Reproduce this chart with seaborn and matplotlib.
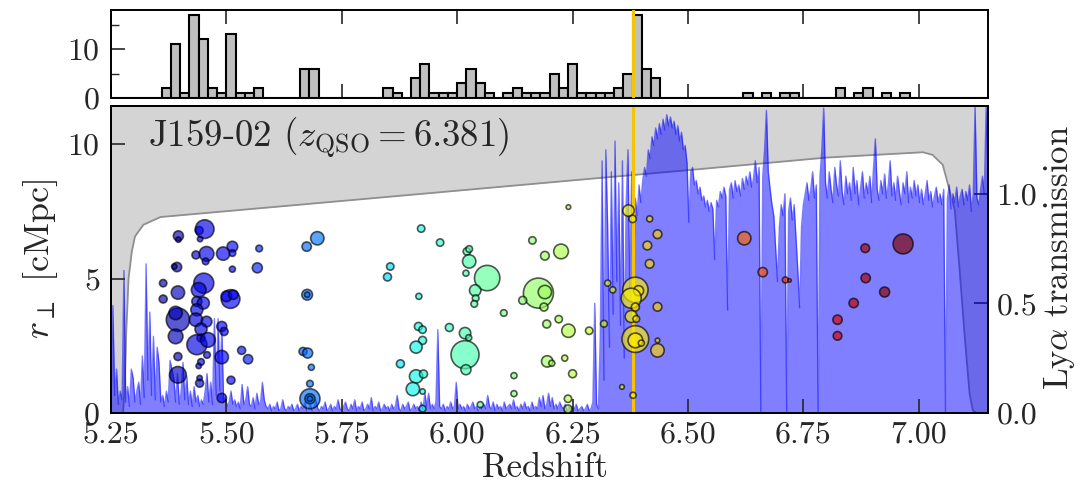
import numpy as np
import pandas as pd
import matplotlib
matplotlib.use("Agg")
import matplotlib.pyplot as plt
from matplotlib.ticker import FormatStrFormatter, FixedLocator
import seaborn as sns

# ---------------- data ----------------
Z_QSO = 6.381
LABEL_TEXT = r"J159-02 ($z_{\rm QSO} = 6.381$)"

X_TICKS = [5.25, 5.50, 5.75, 6.00, 6.25, 6.50, 6.75, 7.00]
R_TICKS = [0, 5, 10]
T_TICKS = [0.0, 0.5, 1.0]
H_TICKS = [0, 10]
H_MINOR = [5, 15]

# redshift histogram (left bin edges, width 0.02)
HIST_BIN_LEFT = [5.36, 5.38, 5.40, 5.42, 5.44, 5.46, 5.48, 5.50, 5.52, 5.54, 5.56,
                 5.66, 5.68, 5.84, 5.86, 5.90, 5.92, 5.94, 5.96, 5.98,
                 6.00, 6.02, 6.04, 6.06, 6.10, 6.12, 6.14, 6.16, 6.18,
                 6.20, 6.22, 6.24, 6.26, 6.28, 6.30, 6.32, 6.34, 6.36, 6.38,
                 6.40, 6.42, 6.62, 6.66, 6.70, 6.72, 6.82, 6.86, 6.88, 6.92, 6.96]
HIST_COUNTS = [2, 11, 1, 17, 12, 2, 1, 13, 1, 1, 2,
               6, 6, 2, 1, 4, 7, 1, 1, 1,
               3, 6, 3, 1, 1, 2, 1, 1, 1,
               5, 2, 7, 1, 1, 1, 1, 2, 5, 17,
               6, 4, 1, 1, 1, 1, 2, 1, 2, 1, 1]
HIST_BINWIDTH = 0.02

# survey coverage (max r_perp) vs redshift
CURVE_Z = [5.250, 5.276, 5.280, 5.283, 5.288, 5.295, 5.302, 5.320, 5.357, 5.660,
           5.987, 6.313, 6.530, 6.799, 7.009, 7.030, 7.052, 7.078, 7.088, 7.099,
           7.110, 7.117, 7.125, 7.150]
CURVE_R = [0.00, 0.00, 1.00, 3.00, 5.00, 6.00, 6.57, 7.00, 7.29, 7.75,
           8.25, 8.75, 9.08, 9.50, 9.70, 9.60, 9.23, 7.56, 5.45, 2.97,
           0.74, 0.10, 0.00, 0.00]

# Ly-alpha transmission, sampled every 0.004 in redshift from 5.25 to 7.15
SPEC_T = [
    0.05, 0.49, 0.08, 0.20, 0.04, 0.10, 0.06, 0.65, 0.05, 0.12, 0.03, 0.20, 0.16, 0.05, 0.10, 0.14, 0.04, 0.26, 0.07, 0.68, 0.15, 0.46, 0.08, 0.35, 0.06,
    0.30, 0.23, 0.05, 0.08, 0.03, 0.10, 0.05, 0.24, 0.20, 0.16, 0.05, 0.18, 0.04, 0.10, 0.23, 0.06, 0.17, 0.04, 0.10, 0.03, 0.12, 0.05, 0.08, 0.03, 0.06,
    0.04, 0.10, 0.18, 0.05, 0.14, 0.04, 0.43, 0.08, 0.43, 0.10, 0.39, 0.05, 0.07, 0.03, 0.05, 0.10, 0.04, 0.06, 0.03, 0.05, 0.02, 0.13, 0.04, 0.06, 0.12,
    0.04, 0.03, 0.07, 0.02, 0.09, 0.04, 0.05, 0.14, 0.06, 0.03, 0.02, 0.04, 0.01, 0.03, 0.02, 0.05, 0.01, 0.02, 0.06, 0.02, 0.01, 0.03, 0.02, 0.04, 0.01,
    0.02, 0.04, 0.01, 0.03, 0.02, 0.05, 0.01, 0.02, 0.04, 0.01, 0.03, 0.06, 0.02, 0.01, 0.03, 0.02, 0.05, 0.01, 0.02, 0.04, 0.01, 0.03, 0.02, 0.06, 0.02,
    0.01, 0.03, 0.05, 0.02, 0.01, 0.04, 0.02, 0.06, 0.01, 0.03, 0.02, 0.05, 0.01, 0.02, 0.04, 0.02, 0.07, 0.01, 0.03, 0.02, 0.05, 0.01, 0.02, 0.04, 0.02,
    0.03, 0.01, 0.04, 0.02, 0.03, 0.08, 0.02, 0.01, 0.04, 0.02, 0.03, 0.05, 0.01, 0.02, 0.04, 0.02, 0.03, 0.01, 0.05, 0.02, 0.09, 0.03, 0.09, 0.02, 0.04,
    0.02, 0.05, 0.38, 0.03, 0.02, 0.04, 0.01, 0.03, 0.02, 0.05, 0.02, 0.03, 0.14, 0.02, 0.04, 0.02, 0.03, 0.01, 0.04, 0.02, 0.03, 0.05, 0.02, 0.03, 0.01,
    0.03, 0.02, 0.04, 0.02, 0.08, 0.03, 0.02, 0.05, 0.01, 0.04, 0.02, 0.03, 0.01, 0.05, 0.02, 0.03, 0.04, 0.02, 0.06, 0.02, 0.03, 0.01, 0.04, 0.02, 0.05,
    0.02, 0.03, 0.01, 0.05, 0.02, 0.03, 0.02, 0.07, 0.03, 0.08, 0.02, 0.04, 0.09, 0.03, 0.07, 0.02, 0.04, 0.02, 0.05, 0.03, 0.02, 0.04, 0.01, 0.03, 0.02,
    0.03, 0.02, 0.04, 0.01, 0.02, 0.03, 0.01, 0.02, 0.04, 0.01, 0.02, 0.05, 0.50, 0.04, 0.02, 0.35, 1.15, 0.15, 1.20, 0.85, 0.30, 1.10, 0.45, 1.24, 0.60,
    1.05, 0.40, 1.15, 0.25, 0.95, 1.20, 0.55, 1.10, 0.65, 0.98, 0.90, 1.04, 0.96, 1.06, 1.12, 1.08, 1.20, 1.16, 1.26, 1.22, 1.30, 1.25, 1.32, 1.27, 1.34,
    1.29, 1.36, 1.31, 1.35, 1.30, 1.33, 1.27, 1.31, 1.24, 1.28, 1.20, 1.22, 1.14, 0.87, 1.10, 1.12, 1.04, 1.06, 1.00, 1.03, 0.97, 0.99, 0.94, 0.97, 0.92,
    0.96, 0.93, 0.70, 0.97, 0.94, 1.01, 0.98, 1.03, 0.99, 0.47, 1.02, 1.05, 0.98, 1.06, 1.01, 1.04, 0.99, 1.07, 1.02, 1.08, 1.04, 1.10, 1.03, 1.07, 1.15,
    1.05, 1.12, 0.00, 1.08, 1.20, 1.38, 1.10, 1.02, 0.95, 0.90, 0.75, 0.60, 0.85, 0.95, 0.90, 1.00, 0.00, 0.92, 0.98, 0.88, 0.95, 0.80, 0.65, 0.48, 0.85,
    0.95, 1.00, 1.05, 0.97, 1.02, 1.10, 0.98, 1.04, 0.00, 1.08, 1.20, 1.39, 1.05, 0.98, 1.10, 1.02, 0.96, 1.12, 1.04, 0.99, 1.15, 1.01, 0.95, 1.08, 1.00,
    1.05, 0.97, 1.12, 1.00, 1.06, 0.95, 1.03, 1.10, 0.98, 1.05, 1.00, 1.08, 0.96, 1.12, 1.25, 1.02, 0.97, 1.06, 1.00, 1.09, 0.98, 1.04, 1.15, 0.99, 1.05,
    0.97, 1.08, 1.01, 0.95, 1.05, 1.00, 1.10, 0.96, 1.03, 0.98, 1.06, 0.99, 1.04, 0.96, 1.02, 0.95, 1.00, 1.06, 0.97, 1.01, 0.94, 0.99, 1.03, 0.96, 1.00,
    0.95, 1.02, 0.00, 0.98, 1.04, 0.93, 1.00, 0.96, 1.03, 0.94, 0.99, 1.02, 0.95, 1.01, 0.97, 1.04, 0.92, 1.00, 1.40, 0.98, 0.95, 1.02, 1.08, 1.00, 1.40, 1.10,
]
SPEC_Z_RANGE = (5.25, 7.15)

# galaxies: redshift, transverse distance (cMpc), marker size
GAL_Z = [5.396, 5.396, 5.441, 5.453, 5.443, 5.434, 5.457, 5.455, 5.493, 5.513,
         5.513, 5.571, 5.393, 5.387, 5.513, 5.567, 5.363, 5.395, 5.363, 5.451,
         5.440, 5.436, 5.450, 5.509, 5.500, 5.515, 5.395, 5.390, 5.436, 5.434,
         5.457, 5.445, 5.390, 5.445, 5.436, 5.460, 5.490, 5.495, 5.395, 5.445,
         5.458, 5.440, 5.490, 5.533, 5.547, 5.395, 5.442, 5.442, 5.510, 5.490,
         5.675, 5.675, 5.674, 5.697, 5.666, 5.676, 5.684, 5.681, 5.681, 5.681, 5.681,
         5.922, 5.963, 5.855, 5.849, 5.917, 6.021, 6.026, 6.026, 6.019, 6.065,
         6.039, 6.040, 6.037, 6.101, 5.983, 6.017, 6.025, 6.017, 6.019, 5.916,
         5.925, 5.925, 5.911, 5.877, 5.911, 5.927, 5.904, 5.925, 5.925, 6.050,
         6.163, 6.190, 6.225, 6.241, 6.176, 6.190, 6.142, 6.188, 6.194, 6.220,
         6.241, 6.286, 6.195, 6.205, 6.233, 6.250, 6.123, 6.123, 6.240, 6.240,
         6.371, 6.380, 6.417, 6.434, 6.412, 6.417, 6.326, 6.337, 6.386, 6.393,
         6.377, 6.386, 6.434, 6.377, 6.388, 6.318, 6.386, 6.386, 6.399, 6.434,
         6.357, 6.381, 6.434,
         6.622, 6.662, 6.711, 6.720, 6.884, 6.966, 6.885, 6.926, 6.859, 6.824, 6.824]
GAL_R = [6.59, 6.45, 6.79, 6.84, 6.47, 5.88, 5.92, 5.64, 5.93, 6.19,
         5.95, 6.12, 5.43, 5.45, 5.35, 5.40, 4.83, 4.48, 4.24, 4.83,
         4.58, 4.15, 4.09, 4.24, 4.34, 4.40, 3.47, 3.72, 3.84, 3.47,
         3.40, 3.12, 2.85, 2.79, 2.54, 2.72, 3.22, 3.03, 2.10, 1.90,
         2.16, 1.75, 2.08, 2.33, 2.00, 1.42, 1.11, 1.30, 1.22, 0.56,
         4.40, 4.40, 6.19, 6.50, 2.29, 2.23, 1.70, 1.09, 0.53, 0.53, 0.53,
         6.86, 6.34, 5.45, 5.06, 4.34, 6.01, 6.10, 5.64, 5.20, 5.02,
         4.56, 4.27, 4.06, 3.72, 3.18, 2.97, 2.80, 2.17, 1.61, 3.22,
         3.10, 2.70, 2.45, 1.83, 1.36, 1.45, 0.89, 0.80, 0.16, 0.31,
         6.42, 5.85, 6.01, 7.66, 4.46, 4.50, 4.19, 3.94, 3.31, 3.49,
         3.06, 3.06, 1.92, 1.85, 2.04, 1.46, 1.39, 0.72, 0.53, 0.15,
         7.53, 7.22, 7.22, 6.65, 6.23, 5.55, 4.83, 4.58, 4.58, 4.55,
         4.27, 3.94, 3.95, 3.59, 3.50, 3.32, 2.75, 2.70, 2.60, 2.33,
         0.97, 0.66, 2.70,
         6.50, 5.24, 4.95, 4.93, 6.13, 6.29, 5.02, 4.50, 4.09, 3.47, 2.87]
GAL_S = [52, 15, 33, 181, 15, 33, 112, 23, 92, 59,
         23, 23, 45, 15, 19, 52, 28, 92, 33, 207,
         112, 52, 75, 181, 59, 45, 282, 92, 75, 92,
         59, 75, 112, 33, 207, 112, 52, 33, 33, 23,
         23, 15, 92, 33, 45, 144, 33, 15, 33, 45,
         59, 15, 45, 92, 33, 52, 19, 23, 207, 52, 15,
         28, 28, 28, 33, 19, 28, 23, 92, 19, 333,
         67, 23, 23, 23, 33, 67, 19, 406, 52, 33,
         28, 33, 75, 33, 92, 33, 92, 15, 23, 19,
         28, 39, 112, 11, 467, 92, 33, 33, 33, 28,
         92, 28, 67, 19, 19, 33, 19, 19, 28, 33,
         67, 28, 19, 39, 39, 39, 19, 19, 333, 52,
         207, 33, 39, 75, 23, 23, 369, 112, 19, 92,
         11, 19, 11,
         92, 45, 19, 6, 39, 207, 45, 52, 45, 45, 39]

# ---------------- style ----------------
sns.set_style("ticks")
plt.rcParams["font.family"] = ["cmr10", "DejaVu Serif"]
plt.rcParams["mathtext.fontset"] = "cm"
plt.rcParams["axes.formatter.use_mathtext"] = True
plt.rcParams["axes.unicode_minus"] = False

TICK_FS = 23
LABEL_FS = 25

fig = plt.figure(figsize=(10.83, 4.93), dpi=100)
L, W = 111 / 1083, 877 / 1083
pos_hist = [L, 1 - 98 / 493, W, 88 / 493]
pos_main = [L, 1 - 413 / 493, W, 307 / 493]

ax_h = fig.add_axes(pos_hist)
ax_bg = fig.add_axes(pos_main)
ax = fig.add_axes(pos_main, sharex=ax_bg, sharey=ax_bg)
ax2 = ax.twinx()
ax_bg.set_zorder(0)
ax2.set_zorder(1)
ax.set_zorder(2)
ax.patch.set_visible(False)
ax_bg.axis("off")

XLIM = (5.25, 7.15)
RLIM = (0, 11.42)
TLIM = (0, 1.40)

# ---------------- histogram ----------------
hist_df = pd.DataFrame({"z": np.array(HIST_BIN_LEFT) + HIST_BINWIDTH / 2,
                        "n": HIST_COUNTS})
sns.histplot(data=hist_df, x="z", weights="n", binwidth=HIST_BINWIDTH,
             binrange=(5.24, 7.16), ax=ax_h,
             color="#c0c0c0", edgecolor="black", linewidth=1.5, alpha=1.0)
ax_h.axvline(Z_QSO, color="#f5c400", lw=2.2, zorder=5)
ax_h.set_xlim(*XLIM)
ax_h.set_ylim(0, 18)
ax_h.set_xticks(X_TICKS)
ax_h.set_xticklabels([])
ax_h.set_yticks(H_TICKS)
ax_h.yaxis.set_minor_locator(FixedLocator(H_MINOR))
ax_h.tick_params(axis="x", which="major", direction="in", top=True, bottom=True,
                 length=10, width=1.2)
ax_h.tick_params(axis="y", which="major", direction="in", length=10, width=1.2,
                 labelsize=TICK_FS, pad=8)
ax_h.tick_params(axis="y", which="minor", direction="in", length=6, width=1.0, left=True)
ax_h.set_xlabel("")
ax_h.set_ylabel("")

# ---------------- coverage (grey) ----------------
ax.set_xlim(*XLIM)
ax.set_ylim(*RLIM)
ax_bg.fill_between(CURVE_Z, CURVE_R, RLIM[1], color="#d4d4d4", lw=0)
sns.lineplot(x=CURVE_Z, y=CURVE_R, ax=ax_bg, color="#8f8f8f", lw=1.3, sort=False)

# ---------------- spectrum ----------------
spec_z = np.linspace(SPEC_Z_RANGE[0], SPEC_Z_RANGE[1], len(SPEC_T))
ax2.fill_between(spec_z, 0, SPEC_T, color="blue", alpha=0.5, lw=0)
sns.lineplot(x=spec_z, y=SPEC_T, ax=ax2, color="blue", alpha=0.5, lw=1.0)
ax2.set_ylim(*TLIM)

# ---------------- galaxies ----------------
gal = pd.DataFrame({"z": GAL_Z, "r": GAL_R, "s": GAL_S})
ax.axvline(Z_QSO, color="#f5c400", lw=2.2, zorder=1)
sns.scatterplot(data=gal, x="z", y="r", hue="z", palette=matplotlib.colormaps["jet"],
                hue_norm=(5.30, 6.95),
                size="s", sizes=(min(GAL_S), max(GAL_S)),
                size_norm=(min(GAL_S), max(GAL_S)),
                alpha=0.65, edgecolor="black", linewidth=1.2, legend=False,
                ax=ax, zorder=3)

ax.text(0.042, 0.895, LABEL_TEXT, transform=ax.transAxes, fontsize=26.5,
        ha="left", va="center", zorder=6)

# ---------------- axes cosmetics ----------------
ax.set_xticks(X_TICKS)
ax.xaxis.set_major_formatter(FormatStrFormatter("%.2f"))
ax.set_yticks(R_TICKS)
ax.tick_params(axis="x", direction="in", length=10, width=1.2, labelsize=TICK_FS,
               pad=6, top=False)
ax.tick_params(axis="y", direction="in", length=10, width=1.2, labelsize=TICK_FS,
               pad=8, right=False)
ax2.set_yticks(T_TICKS)
ax2.yaxis.set_major_formatter(FormatStrFormatter("%.1f"))
ax2.tick_params(axis="y", direction="in", length=10, width=1.2, labelsize=TICK_FS, pad=6)

ax.set_xlabel("Redshift", fontsize=LABEL_FS)
ax.set_ylabel(r"$r_\perp$ [cMpc]", fontsize=LABEL_FS + 1)
ax2.set_ylabel(r"Ly$\alpha$ transmission", fontsize=LABEL_FS)
ax.xaxis.set_label_coords(0.495, -0.128)
ax.yaxis.set_label_coords(-0.058, 0.5)
ax2.yaxis.set_label_coords(1.062, 0.505)

for a in (ax, ax2, ax_h):
    for sp in a.spines.values():
        sp.set_visible(True)
        sp.set_linewidth(1.4)
        sp.set_color("black")

fig.savefig("out.png", dpi=100)
